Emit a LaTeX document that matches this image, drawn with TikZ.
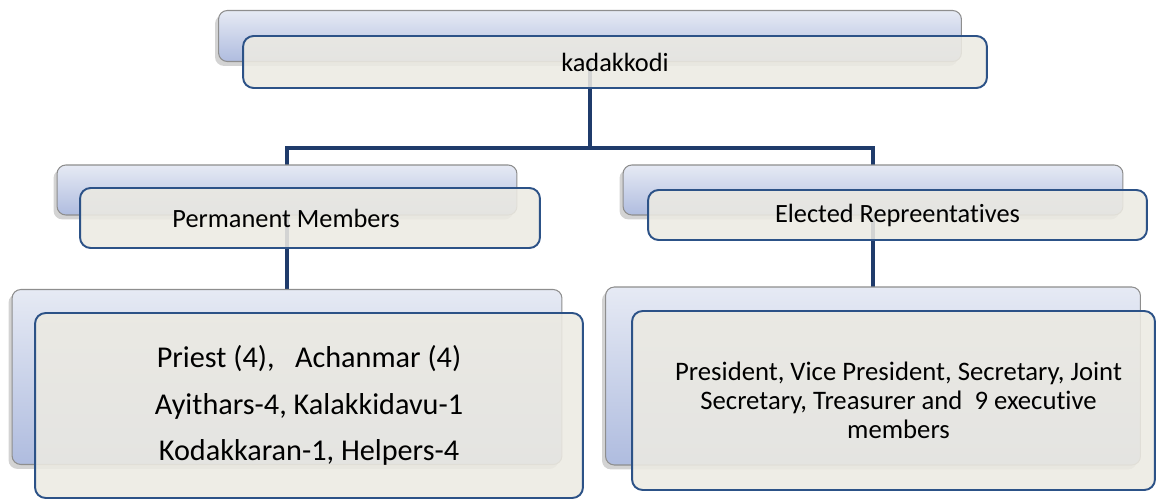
\documentclass[tikz,border=0pt]{standalone}
\usepackage{fontspec}
\setmainfont[Ligatures=NoCommon]{Carlito}
\usetikzlibrary{shadows}

\definecolor{backtop}{HTML}{E6EAF4}
\definecolor{backbot}{HTML}{AFBCDF}
\definecolor{backline}{HTML}{8E8E8E}
\definecolor{frontfill}{HTML}{ECEAE2}
\definecolor{frontline}{HTML}{2C5287}
\definecolor{linkblue}{HTML}{1F3B6B}

\tikzset{
  backbox/.style={draw=backline, line width=0.6pt, rounded corners=5pt,
    top color=backtop, bottom color=backbot,
    drop shadow={shadow xshift=-2pt, shadow yshift=-2.5pt, opacity=0.35}},
  frontbox/.style={draw=frontline, line width=1.1pt, rounded corners=6pt,
    fill=frontfill, fill opacity=0.88, text opacity=1, align=center},
  link/.style={draw=linkblue, line width=2.4pt}
}

\begin{document}
\begin{tikzpicture}[x=0.02cm, y=-0.02cm, inner sep=0pt, font=\fontsize{15}{18}\selectfont]
\useasboundingbox (0,0) rectangle (1157,500);

% connectors first, boxes go on top
\coordinate (fork) at (590,148);
\coordinate (topc) at (590,36);
\coordinate (permc) at (287,190);
\coordinate (electc) at (873,190);
\coordinate (permlistc) at (287,377);
\coordinate (electlistc) at (873,376);
\draw[link] (topc) -- (fork);
\draw[link] (permc) |- (fork) -| (electc);
\draw[link] (permc) -- (permlistc);
\draw[link] (electc) -- (electlistc);

% top level
\node[backbox, minimum width=14.86cm, minimum height=1.02cm] (topback) at (topc) {};
\node[frontbox, minimum width=14.88cm, minimum height=1.04cm] (top) at (615,62) {kadakkodi};

% second level
\node[backbox, minimum width=9.2cm, minimum height=1.0cm] (permback) at (permc) {};
\node[frontbox, minimum width=9.2cm, minimum height=1.2cm] (perm) at (310,218) {Permanent Members\hspace*{0.96cm}};
\node[backbox, minimum width=10.0cm, minimum height=1.0cm] (electback) at (electc) {};
\node[frontbox, minimum width=9.98cm, minimum height=1.0cm] (elect) at (897.5,215) {Elected Repreentatives};

% third level
\node[backbox, minimum width=11.0cm, minimum height=3.5cm] (permlistback) at (permlistc) {};
\node[frontbox, minimum width=10.96cm, minimum height=3.7cm, font=\fontsize{17.2}{26.6}\selectfont] (permlist) at (309,405.5)
  {Priest (4),\ \ \ Achanmar (4)\\Ayithars-4, Kalakkidavu-1\\Kodakkaran-1, Helpers-4};
\node[backbox, minimum width=10.7cm, minimum height=3.56cm] (electlistback) at (electlistc) {};
\node[frontbox, minimum width=10.46cm, minimum height=3.58cm, font=\fontsize{15.2}{16.4}\selectfont] (electlist) at (893.5,400.5)
  {\hspace*{0.2cm}President, Vice President, Secretary, Joint\\\hspace*{0.2cm}Secretary, Treasurer and\ \ 9 executive\\\hspace*{0.2cm}members};
\end{tikzpicture}
\end{document}
